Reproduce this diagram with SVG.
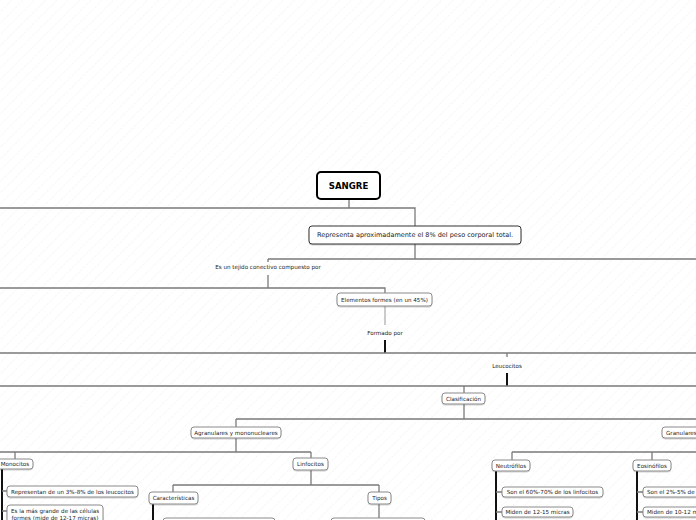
<svg xmlns="http://www.w3.org/2000/svg" width="696" height="520" viewBox="0 0 696 520">
<defs>
<pattern id="hatch" width="8" height="8" patternUnits="userSpaceOnUse" patternTransform="rotate(45)">
<line x1="0" y1="0" x2="0" y2="8" stroke="#f0f0f0" stroke-width="1" stroke-dasharray="3,1"/>
</pattern>
<filter id="sh" x="-10%" y="-20%" width="120%" height="150%">
<feDropShadow dx="0" dy="1" stdDeviation="0.6" flood-color="#000" flood-opacity="0.18"/>
</filter>
</defs>
<style>
text{font-family:"DejaVu Sans","Verdana",sans-serif;font-size:5.6px;fill:#222;text-anchor:middle}
.t{font-weight:bold;font-size:8.6px;fill:#000}
.r{font-size:6.5px}
.n{fill:#fff;stroke:#8a8a8a;stroke-width:1;filter:url(#sh)}
.c{fill:none;stroke:#7a7a7a;stroke-width:1.3}
.k{fill:none;stroke:#111;stroke-width:2}
.l{fill:none;stroke:#b0b0b0;stroke-width:1.3}
</style>
<rect width="696" height="520" fill="#fff"/>
<rect width="696" height="520" fill="url(#hatch)"/>

<g id="connectors">
<path class="c" d="M349,199V208M0,208H415V226" stroke-width="1.8"/>
<path class="c" d="M415,244V259M268,259H696M268,259V262"/>
<path class="c" d="M268,275V288M0,288H385V293"/>
<path class="l" d="M385,306V325"/>
<path class="k" d="M385,340V353"/>
<path class="c" d="M0,353H696M507,353V357"/>
<path class="k" d="M507,373V386"/>
<path class="c" d="M0,386H696M464,386V393M464,404V419M236,419H696M236,419V427"/>
<path class="c" d="M236,438V452M0,452H311M15,452V459M311,452V458"/>
<path class="k" d="M2,468V520"/>
<path class="c" d="M2,491H7M2,511H7"/>
<path class="c" d="M311,470V485M173,485H379M173,485V492M379,485V492M379,504V518"/>
<path class="k" d="M153,504V520"/>
<path class="c" d="M512,452H696M512,452V460M652,452V460"/>
<path class="k" d="M496,471V520M637,471V520"/>
<path class="c" d="M496,492H502M496,512H502M637,492H643M637,512H643"/>
</g>

<g id="sangre"><rect x="317" y="172" width="63" height="27" rx="4" fill="#fff" stroke="#000" stroke-width="2"/><text class="t" x="348.5" y="189">SANGRE</text></g>
<g id="representa"><rect x="309" y="226" width="212" height="18" rx="3" fill="#fff" stroke="#333" stroke-width="1" filter="url(#sh)"/><text class="r" x="415" y="237.3">Representa aproximadamente el 8% del peso corporal total.</text></g>
<g id="tejido"><text x="268" y="269">Es un tejido conectivo compuesto por</text></g>
<g id="elementos"><rect class="n" x="337" y="293" width="95" height="13" rx="3"/><text x="384.5" y="301.5">Elementos formes (en un 45%)</text></g>
<g id="formado"><text x="385" y="335">Formado por</text></g>
<g id="leucocitos"><text x="507" y="368">Leucocitos</text></g>
<g id="clasificacion"><rect class="n" x="442" y="393" width="43" height="11" rx="3"/><text x="463.5" y="400.5">Clasificación</text></g>
<g id="agranulares"><rect class="n" x="191" y="427" width="90" height="11" rx="3"/><text x="236" y="434.5">Agranulares y mononucleares</text></g>
<g id="granulares"><rect class="n" x="662" y="427" width="60" height="11" rx="3"/><text x="666" y="434.5" style="text-anchor:start">Granulares</text></g>
<g id="monocitos"><rect class="n" x="-4" y="459" width="37" height="10" rx="3"/><text x="15" y="466">Monocitos</text></g>
<g id="m1"><rect class="n" x="7" y="486" width="131" height="11" rx="3"/><text x="72.5" y="493.5">Representan de un 3%-8% de los leucocitos</text></g>
<g id="m2"><rect class="n" x="7" y="505" width="96" height="22" rx="3"/><text x="55" y="513">Es la más grande de las células</text><text x="55" y="519.5">formes (mide de 12-17 micras)</text></g>
<g id="linfocitos"><rect class="n" x="293" y="458" width="35" height="12" rx="3"/><text x="310.5" y="466">Linfocitos</text></g>
<g id="caracteristicas"><rect class="n" x="149" y="492" width="49" height="12" rx="3"/><text x="173.5" y="500">Características</text></g>
<g id="tipos"><rect class="n" x="368" y="492" width="23" height="12" rx="3"/><text x="379.5" y="500">Tipos</text></g>
<g id="c1"><rect class="n" x="163" y="518" width="112" height="14" rx="3"/></g>
<g id="t1"><rect class="n" x="331" y="518" width="94" height="14" rx="3"/></g>
<g id="neutrofilos"><rect class="n" x="492" y="460" width="38" height="11" rx="3"/><text x="511" y="467.5">Neutrófilos</text></g>
<g id="n1"><rect class="n" x="502" y="487" width="101" height="10" rx="3"/><text x="552.5" y="494">Son el 60%-70% de los linfocitos</text></g>
<g id="n2"><rect class="n" x="502" y="507" width="71" height="10" rx="3"/><text x="537.5" y="514">Miden de 12-15 micras</text></g>
<g id="eosinofilos"><rect class="n" x="633" y="460" width="38" height="11" rx="3"/><text x="652" y="467.5">Eosinófilos</text></g>
<g id="e1"><rect class="n" x="643" y="487" width="100" height="10" rx="3"/><text x="647" y="494" style="text-anchor:start">Son el 2%-5% de los leucocitos</text></g>
<g id="e2"><rect class="n" x="643" y="507" width="72" height="10" rx="3"/><text x="647" y="514" style="text-anchor:start">Miden de 10-12 micras</text></g>
</svg>
